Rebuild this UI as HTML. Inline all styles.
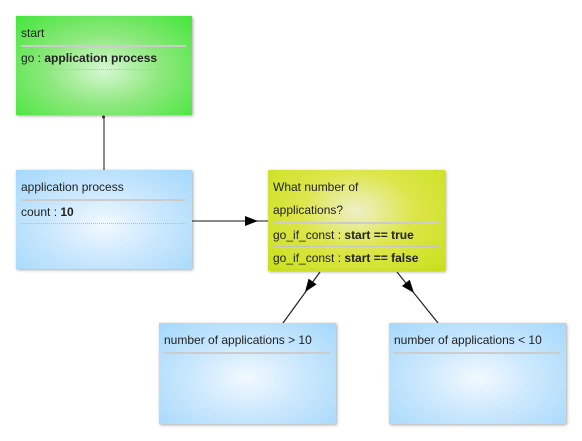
<!DOCTYPE html>
<html><head><style>
body{margin:0;width:582px;height:441px;background:#fff;position:relative;overflow:hidden;font-family:"Liberation Sans",sans-serif;font-size:12px;color:#222}
.b{position:absolute;box-shadow:1px 1px 3px rgba(0,0,0,.35);box-sizing:border-box;padding:6px 6px 0 5px}
.g{background:radial-gradient(ellipse at 50% 55%,#d6f7d2 0%,#8fe87f 45%,#44e63a 100%)}
.u{background:radial-gradient(ellipse at 50% 55%,#f2f9ff 0%,#cbe8fd 45%,#a4d8fc 100%)}
.y{background:radial-gradient(ellipse at 50% 40%,#eef0c8 0%,#dde64a 45%,#c8e01a 100%)}
.t{line-height:23px}
.s{border-top:2px solid #ccc}
.r{line-height:22px;border-bottom:1px dotted #bbb}
b{color:#222}
</style></head><body>
<svg width="582" height="441" style="position:absolute;left:0;top:0">
<line x1="104" y1="116" x2="104" y2="170" stroke="#666" stroke-width="1.5"/>
<circle cx="103.5" cy="117" r="1.5" fill="#333"/>
<line x1="192" y1="221" x2="268" y2="221" stroke="#444" stroke-width="1.2"/>
<polygon points="258,221 245,216 245,226" fill="#000"/>
<line x1="320" y1="272" x2="283" y2="323" stroke="#222" stroke-width="1.2"/>
<polygon points="305,292 316.6,284.4 308.6,278.6" fill="#000"/>
<line x1="397" y1="272" x2="438" y2="323" stroke="#222" stroke-width="1.2"/>
<polygon points="414,293 409.7,279.8 401.9,286" fill="#000"/>
</svg>
<div class="b g" style="left:16px;top:16px;width:176px;height:99px"><div class="t">start</div><div class="s"></div><div class="r">go : <b>application process</b></div></div>
<div class="b u" style="left:16px;top:170px;width:176px;height:99px"><div class="t">application process</div><div class="s"></div><div class="r">count : <b>10</b></div></div>
<div class="b y" style="left:268px;top:170px;width:177px;height:101px"><div class="t">What number of<br>applications?</div><div class="s"></div><div class="r">go_if_const : <b>start == true</b></div><div class="r">go_if_const : <b>start == false</b></div></div>
<div class="b u" style="left:159px;top:323px;width:177px;height:101px"><div class="t">number of applications &gt; 10</div><div class="s"></div></div>
<div class="b u" style="left:389px;top:323px;width:177px;height:101px"><div class="t">number of applications &lt; 10</div><div class="s"></div></div>
</body></html>
